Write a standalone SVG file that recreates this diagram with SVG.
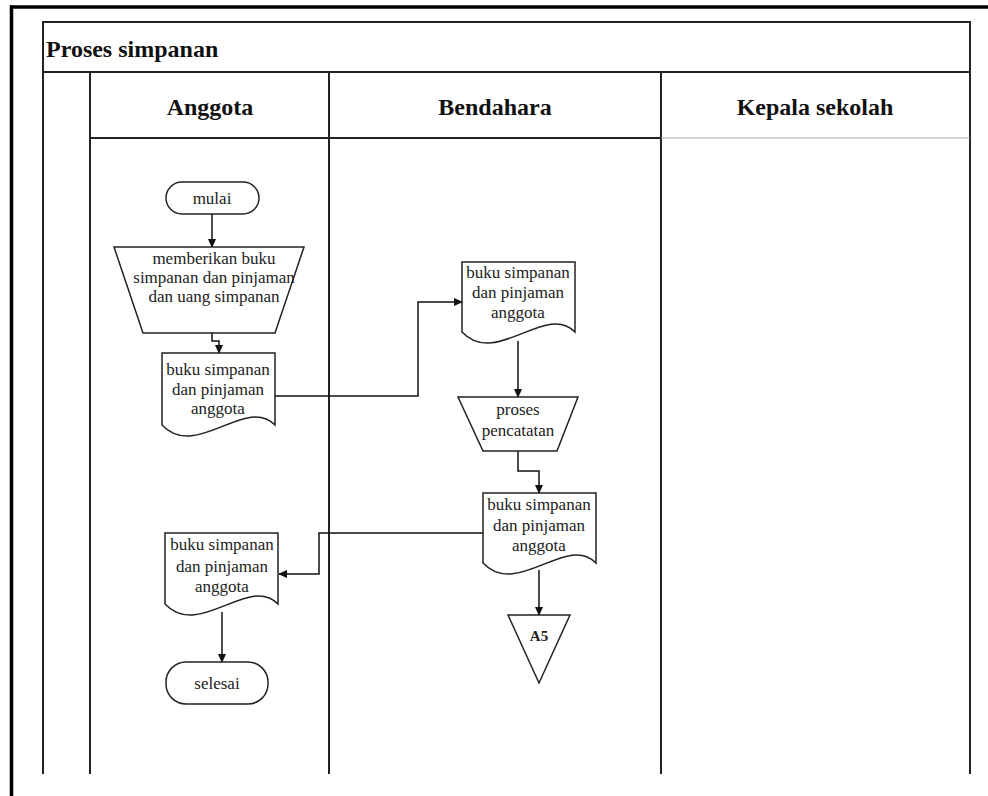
<svg xmlns="http://www.w3.org/2000/svg" width="988" height="796" viewBox="0 0 988 796">
<defs>
<marker id="arr" markerWidth="9" markerHeight="8" refX="8" refY="4" orient="auto" markerUnits="userSpaceOnUse">
<path d="M0,0 L9,4 L0,8 z" fill="#111"/>
</marker>
<style>
.frame{stroke:#000;stroke-width:3.5;fill:none}
.lane{stroke:#222;stroke-width:2;fill:none}
.shape{stroke:#222;stroke-width:1.5;fill:#fff}
.conn{stroke:#111;stroke-width:1.5;fill:none;marker-end:url(#arr)}
.t{font-family:"Liberation Serif","Times New Roman",serif;font-size:17px;fill:#222;text-anchor:middle}
.h{font-family:"Liberation Serif","Times New Roman",serif;font-size:24px;font-weight:bold;fill:#111;text-anchor:middle}
</style>
</defs>
<rect width="988" height="796" fill="#fff"/>
<g id="frame">
<line class="frame" x1="10" y1="7" x2="988" y2="7"/>
<line class="frame" x1="11.5" y1="5.5" x2="11.5" y2="796"/>
</g>
<g id="pool">
<rect class="lane" x="43" y="22" width="927" height="50"/>
<line class="lane" x1="43" y1="72" x2="43" y2="774"/>
<line class="lane" x1="970" y1="72" x2="970" y2="774"/>
<line class="lane" x1="90" y1="72" x2="90" y2="774"/>
<line class="lane" x1="329" y1="72" x2="329" y2="774"/>
<line class="lane" x1="661" y1="72" x2="661" y2="774"/>
<line class="lane" x1="90" y1="138" x2="661" y2="138"/>
<line x1="661" y1="138" x2="970" y2="138" stroke="#aaa" stroke-width="1"/>
<text x="46" y="57" class="h" style="text-anchor:start">Proses simpanan</text>
<text x="210" y="115" class="h">Anggota</text>
<text x="495" y="115" class="h">Bendahara</text>
<text x="815" y="115" class="h">Kepala sekolah</text>
</g>
<g id="connectors">
<path class="conn" d="M212,214 V247"/>
<path class="conn" d="M212,333 V341 H219 V353"/>
<path class="conn" d="M275,396 H418 V302 H462"/>
<path class="conn" d="M518,341 V397"/>
<path class="conn" d="M518,451 V471 H539 V493"/>
<path class="conn" d="M483,533 H319 V574 H279"/>
<path class="conn" d="M539,570 V615"/>
<path class="conn" d="M222,612 V662"/>
</g>
<g id="mulai">
<rect class="shape" x="166" y="182" width="93" height="32" rx="16"/>
<text class="t" x="212" y="204">mulai</text>
</g>
<g id="memberikan">
<polygon class="shape" points="114,247 304,247 275,333 143,333"/>
<text class="t" x="214" y="264">memberikan buku</text>
<text class="t" x="214" y="283">simpanan dan pinjaman</text>
<text class="t" x="214" y="302">dan uang simpanan</text>
</g>
<g id="doc1">
<path class="shape" d="M162,353 H275 V425 C246,395 196,461 162,425 Z"/>
<text class="t" x="218" y="375">buku simpanan</text>
<text class="t" x="218" y="395">dan pinjaman</text>
<text class="t" x="218" y="414">anggota</text>
</g>
<g id="doc2">
<path class="shape" d="M462,262 H575 V332 C546,302 496,368 462,332 Z"/>
<text class="t" x="518" y="278">buku simpanan</text>
<text class="t" x="518" y="298">dan pinjaman</text>
<text class="t" x="518" y="318">anggota</text>
</g>
<g id="pencatatan">
<polygon class="shape" points="458,397 578,397 557,451 483,451"/>
<text class="t" x="518" y="415">proses</text>
<text class="t" x="518" y="436">pencatatan</text>
</g>
<g id="doc3">
<path class="shape" d="M483,493 H596 V563 C567,533 517,599 483,563 Z"/>
<text class="t" x="539" y="510">buku simpanan</text>
<text class="t" x="539" y="531">dan pinjaman</text>
<text class="t" x="539" y="551">anggota</text>
</g>
<g id="a5">
<polygon class="shape" points="508,615 570,615 539,683"/>
<text class="t" x="539" y="641" style="font-weight:bold;font-size:15px">A5</text>
</g>
<g id="doc4">
<path class="shape" d="M165,533 H278 V604 C249,574 199,640 165,604 Z"/>
<text class="t" x="222" y="550">buku simpanan</text>
<text class="t" x="222" y="572">dan pinjaman</text>
<text class="t" x="222" y="592">anggota</text>
</g>
<g id="selesai">
<rect class="shape" x="166" y="662" width="102" height="42" rx="20"/>
<text class="t" x="217" y="689">selesai</text>
</g>
</svg>
